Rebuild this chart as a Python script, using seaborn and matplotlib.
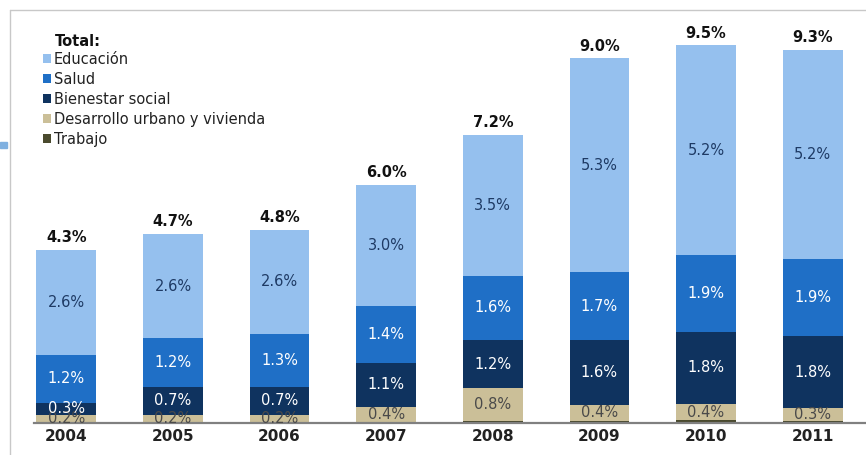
import matplotlib
matplotlib.use("Agg")
import matplotlib.pyplot as plt
import seaborn as sns
import numpy as np
from matplotlib.patches import Patch, Rectangle
from matplotlib.lines import Line2D

years = ['2004', '2005', '2006', '2007', '2008', '2009', '2010', '2011']
educacion = [2.6, 2.6, 2.6, 3.0, 3.5, 5.3, 5.2, 5.2]
salud = [1.2, 1.2, 1.3, 1.4, 1.6, 1.7, 1.9, 1.9]
bienestar = [0.3, 0.7, 0.7, 1.1, 1.2, 1.6, 1.8, 1.8]
desarrollo = [0.2, 0.2, 0.2, 0.4, 0.8, 0.4, 0.4, 0.3]
trabajo = [0.0, 0.0, 0.0, 0.0, 0.06, 0.05, 0.07, 0.06]
totales = ['4.3%', '4.7%', '4.8%', '6.0%', '7.2%', '9.0%', '9.5%', '9.3%']

series_names = ['Trabajo', 'Desarrollo urbano y vivienda', 'Bienestar social', 'Salud', 'Educación']
series_vals = [trabajo, desarrollo, bienestar, salud, educacion]
colors = ['#4a4a2e', '#cbbf98', '#0f335f', '#1f6fc6', '#95c0ee']
label_colors = [None, '#4a4a4a', 'white', 'white', '#1e3a64']

sns.set_style("white")
plt.rcParams['font.family'] = ['DejaVu Sans']

W, H = 866, 455
fig = plt.figure(figsize=(W / 100, H / 100), dpi=100)
ax_left, ax_right = 13, 866
ax_bottom, ax_top = 423, 10
ax = fig.add_axes([ax_left / W, 1 - ax_bottom / H, (ax_right - ax_left) / W, (ax_bottom - ax_top) / H])

bottoms = np.zeros(len(years))
for name, vals, col, lc in zip(series_names, series_vals, colors, label_colors):
    vals = np.array(vals, dtype=float)
    sns.barplot(x=years, y=vals, bottom=bottoms, color=col, width=0.56,
                ax=ax, linewidth=0, saturation=1)
    if lc is not None:
        for i, v in enumerate(vals):
            ax.text(i, bottoms[i] + v / 2, f"{v:.1f}%", ha='center', va='center',
                    fontsize=10.5, color=lc, zorder=5)
    bottoms = bottoms + vals

for i, t in enumerate(totales):
    ax.text(i, bottoms[i] + 0.12, t, ha='center', va='bottom', fontsize=10.5,
            fontweight='bold', color='#111111')

ax.set_xlim(-0.5, 7.5)
ax.set_ylim(0, 10.25)
ax.set_yticks([])
ax.set_ylabel('')
for s in ['top', 'right', 'left']:
    ax.spines[s].set_visible(False)
ax.spines['bottom'].set_color('#808080')
ax.spines['bottom'].set_linewidth(1.6)
ax.spines['bottom'].set_bounds(-0.3, 7.5)
ax.tick_params(axis='x', length=0, pad=4.5, labelsize=11)
for lab in ax.get_xticklabels():
    lab.set_fontweight('bold')
    lab.set_color('#222222')

# legend
handles = [Patch(facecolor=c, edgecolor='none') for c in colors[::-1]]
leg = fig.legend(handles, series_names[::-1], loc='upper left',
                 bbox_to_anchor=(43 / W, 1 - 52 / H), frameon=False,
                 fontsize=10.5, handlelength=0.55, handleheight=0.55,
                 handletextpad=0.2, labelspacing=0.34, borderpad=0,
                 borderaxespad=0)
for t in leg.get_texts():
    t.set_color('#222222')
fig.text(55 / W, 1 - 41 / H, 'Total:', fontsize=10.5, fontweight='bold',
         va='center', ha='left', color='#111111')

# frame lines
fig.add_artist(Line2D([10 / W, 1], [1 - 10 / H, 1 - 10 / H], color='#c8c8c8', lw=1))
fig.add_artist(Line2D([10 / W, 10 / W], [0, 1 - 10 / H], color='#c8c8c8', lw=1))
fig.add_artist(Rectangle((0, 1 - 148 / H), 7 / W, 6 / H, color='#7fb0e0',
                         transform=fig.transFigure))

fig.savefig('out.png', dpi=100)
